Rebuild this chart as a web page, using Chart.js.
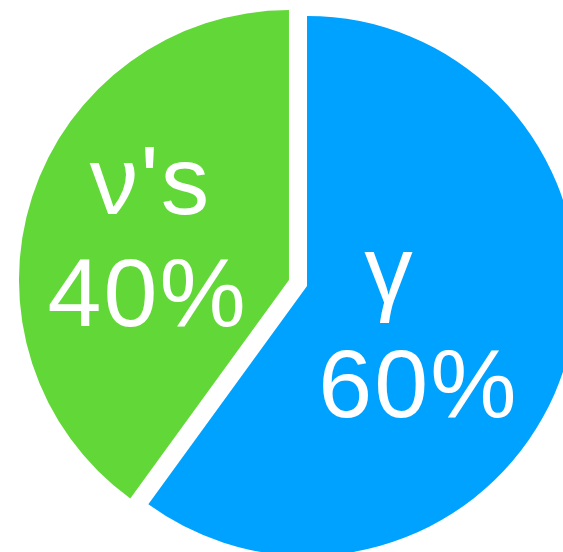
<!DOCTYPE html>
<html>
<head>
<meta charset="utf-8">
<script src="https://cdn.jsdelivr.net/npm/chart.js@4"></script>
<style>
  html, body { margin: 0; padding: 0; background: #fff; overflow: hidden; }
  #wrap { width: 563px; height: 552px; position: relative; }
</style>
</head>
<body>
<div id="wrap"><canvas id="pie"></canvas></div>
<script>
// slices, clockwise from 12 o'clock
var names = ['γ', "ν's"];
var shares = [60, 40];
var colors = ['#00a2ff', '#62d838'];

// how far each slice is pulled out from the middle (px)
var gap = 9.5;

// nudges for the two text lines in each slice, relative to arc.tooltipPosition()
var nameShift = [[-46, -25], [-10, -24]];
var pctShift = [[-17, 89], [-13, 88]];

// move each arc along its mid angle without growing its radius
var explode = {
  id: 'explode',
  afterDatasetUpdate: function(chart) {
    chart.getDatasetMeta(0).data.forEach(function(arc) {
      var mid = (arc.startAngle + arc.endAngle) / 2;
      arc.x += Math.cos(mid) * gap;
      arc.y += Math.sin(mid) * gap;
    });
  }
};

// white name + percentage inside each slice
var sliceLabels = {
  id: 'sliceLabels',
  afterDatasetsDraw: function(chart) {
    var ctx = chart.ctx;
    ctx.save();
    ctx.fillStyle = '#fff';
    ctx.textAlign = 'center';
    ctx.textBaseline = 'alphabetic';
    ctx.font = '97px "Liberation Sans", Arial, sans-serif';
    ctx.letterSpacing = '2px';
    chart.getDatasetMeta(0).data.forEach(function(arc, i) {
      var p = arc.tooltipPosition();
      ctx.fillText(names[i], p.x + nameShift[i][0], p.y + nameShift[i][1]);
      ctx.fillText(shares[i] + '%', p.x + pctShift[i][0], p.y + pctShift[i][1]);
    });
    ctx.restore();
  }
};

new Chart(document.getElementById('pie'), {
  type: 'pie',
  data: {
    labels: names,
    datasets: [{
      data: shares,
      backgroundColor: colors,
      borderWidth: 0,
      clip: false
    }]
  },
  options: {
    responsive: true,
    maintainAspectRatio: false,
    animation: false,
    events: [],
    radius: 270,
    layout: { padding: { left: 33, top: 14, right: 0, bottom: 0 } },
    plugins: {
      legend: { display: false },
      tooltip: { enabled: false }
    }
  },
  plugins: [explode, sliceLabels]
});
</script>
</body>
</html>
